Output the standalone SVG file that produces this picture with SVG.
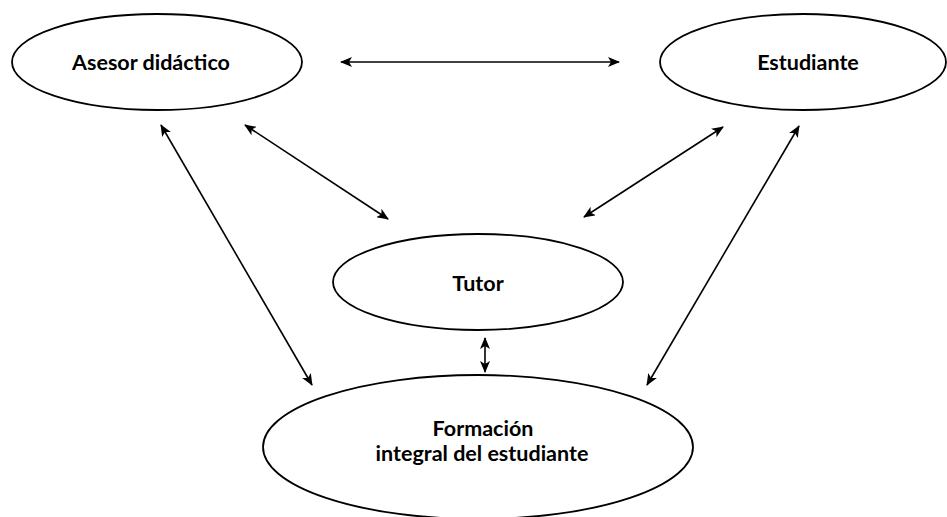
<svg xmlns="http://www.w3.org/2000/svg" width="947" height="517" viewBox="0 0 947 517">
<defs>
<marker id="ah" viewBox="0 0 12 10" refX="11" refY="5" markerWidth="12" markerHeight="10" markerUnits="userSpaceOnUse" orient="auto-start-reverse">
<path d="M0,0 L12,5 L0,10 L3,5 Z" fill="#000"/>
</marker>
<style>
.n ellipse{fill:#fff;stroke:#000;stroke-width:1.8}
.n text{font-family:Lato,"Open Sans","Liberation Sans",sans-serif;font-weight:bold;font-size:21.5px;text-anchor:middle;fill:#000}
.c line{stroke:#000;stroke-width:1.6;marker-start:url(#ah);marker-end:url(#ah)}
</style>
</defs>
<rect width="947" height="517" fill="#fff"/>
<g id="asesor" class="n"><ellipse cx="157" cy="62" rx="145" ry="48"/><text x="151" y="70">Asesor didáctico</text></g>
<g id="estudiante" class="n"><ellipse cx="803" cy="62" rx="143" ry="48"/><text x="808" y="70">Estudiante</text></g>
<g id="tutor" class="n"><ellipse cx="478" cy="282" rx="145" ry="48"/><text x="478" y="291">Tutor</text></g>
<g id="formacion" class="n"><ellipse cx="478" cy="447" rx="215" ry="72"/><text x="483" y="436">Formación</text><text x="482" y="461">integral del estudiante</text></g>
<g id="connectors" class="c">
<line x1="341" y1="62" x2="619" y2="62"/>
<line x1="245" y1="125" x2="388" y2="219"/>
<line x1="723" y1="127" x2="584" y2="217"/>
<line x1="161" y1="125" x2="312" y2="385"/>
<line x1="799" y1="126" x2="647" y2="385"/>
<line x1="485" y1="338" x2="485" y2="372"/>
</g>
</svg>
